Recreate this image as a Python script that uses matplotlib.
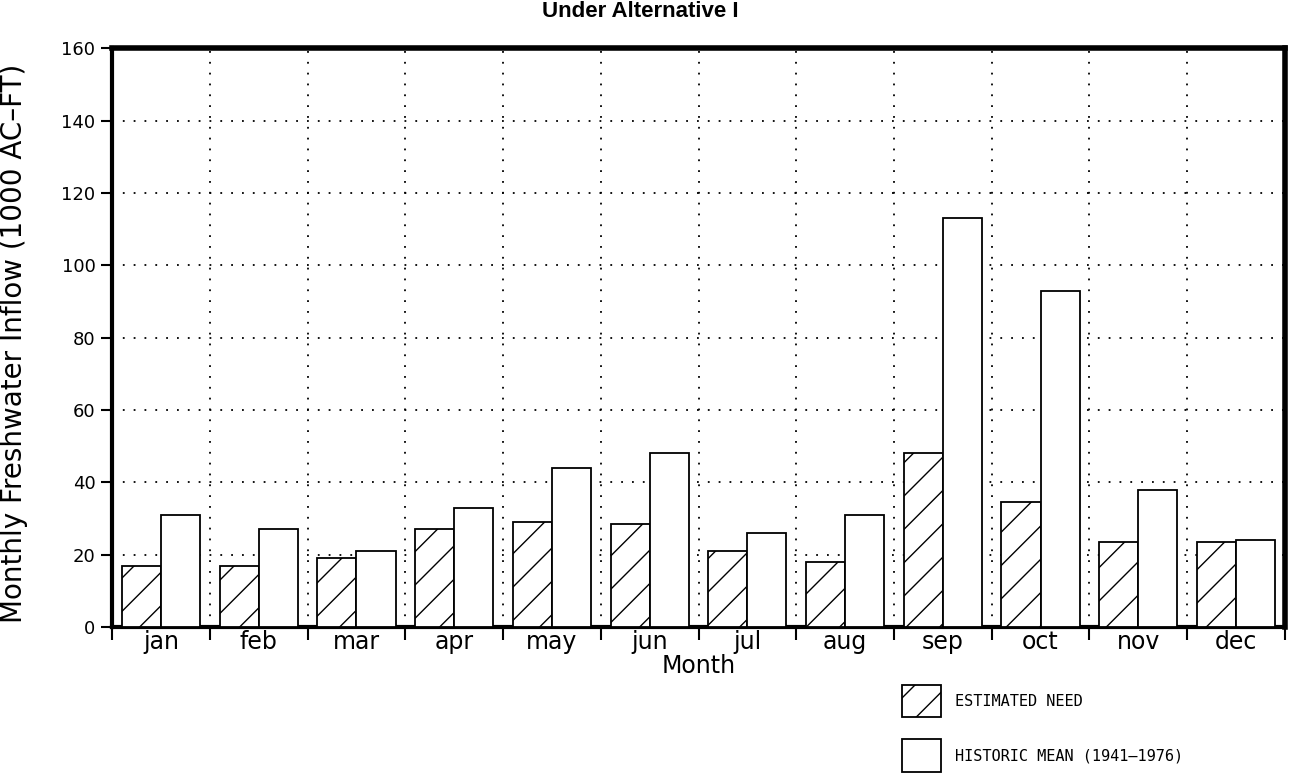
import matplotlib
matplotlib.use("Agg")
import matplotlib.pyplot as plt
from matplotlib.patches import Patch
import numpy as np

MONTHS = ["jan", "feb", "mar", "apr", "may", "jun", "jul", "aug", "sep", "oct", "nov", "dec"]
ESTIMATED_NEED = [17, 17, 19, 27, 29, 28.5, 21, 18, 48, 34.5, 23.5, 23.5]
HISTORIC_MEAN = [31, 27, 21, 33, 44, 48, 26, 31, 113, 93, 38, 24]
Y_TICKS = [0, 20, 40, 60, 80, 100, 120, 140, 160]

plt.rcParams["font.family"] = "DejaVu Sans"
plt.rcParams["hatch.linewidth"] = 1.0

fig = plt.figure(figsize=(12.94, 7.77), dpi=100)
ax = fig.add_axes([0.0866, 0.193, 0.9064, 0.745])

x = np.arange(len(MONTHS))
ax.bar(x + 0.1, ESTIMATED_NEED, width=0.4, align="edge", facecolor="white",
       edgecolor="black", linewidth=1.3, hatch="/", zorder=3)
ax.bar(x + 0.5, HISTORIC_MEAN, width=0.4, align="edge", facecolor="white",
       edgecolor="black", linewidth=1.3, zorder=3)

ax.set_xlim(0, 12)
ax.set_ylim(0, 160)
ax.set_yticks(Y_TICKS)
ax.set_yticklabels([str(v) for v in Y_TICKS], fontsize=13)
ax.set_xticks(np.arange(0, 13))
ax.set_xticklabels([])
ax.set_xticks(x + 0.5, minor=True)
ax.set_xticklabels(MONTHS, minor=True, fontsize=17)
ax.tick_params(axis="x", which="minor", length=0, pad=2)
ax.tick_params(axis="x", which="major", direction="out", length=9, width=1.5)
ax.tick_params(axis="y", direction="out", length=8, width=1.5, pad=4)

ax.grid(True, which="major", linestyle=(0, (1, 5)), color="black", linewidth=1.3, zorder=0)
ax.set_axisbelow(True)

for side, lw in [("left", 3), ("bottom", 3), ("top", 4), ("right", 4)]:
    ax.spines[side].set_linewidth(lw)

ax.set_xlabel("Month", fontsize=17, labelpad=0)
ax.set_ylabel("Monthly Freshwater Inflow (1000 AC\u2013FT)", fontsize=20)
ax.yaxis.set_label_coords(-0.072, 0.49)

# the scanned original has this title clipped at the top edge; keep it just inside
fig.text(0.495, 1 - 17 / 777, "Under Alternative I", ha="center", va="baseline",
         fontsize=16, fontweight="bold", family="Liberation Sans")

handles = [
    Patch(facecolor="white", edgecolor="black", hatch="/", linewidth=1.3),
    Patch(facecolor="white", edgecolor="black", linewidth=1.3),
]
fig.legend(handles, ["ESTIMATED NEED", "HISTORIC MEAN (1941\u20131976)"],
           loc="upper left", bbox_to_anchor=(888 / 1294, 1 - 671 / 777),
           frameon=False, handlelength=2.6, handleheight=2.9, labelspacing=1.45,
           handletextpad=0.9, prop={"family": "DejaVu Sans Mono", "size": 11})

fig.savefig("out.png", dpi=100)
